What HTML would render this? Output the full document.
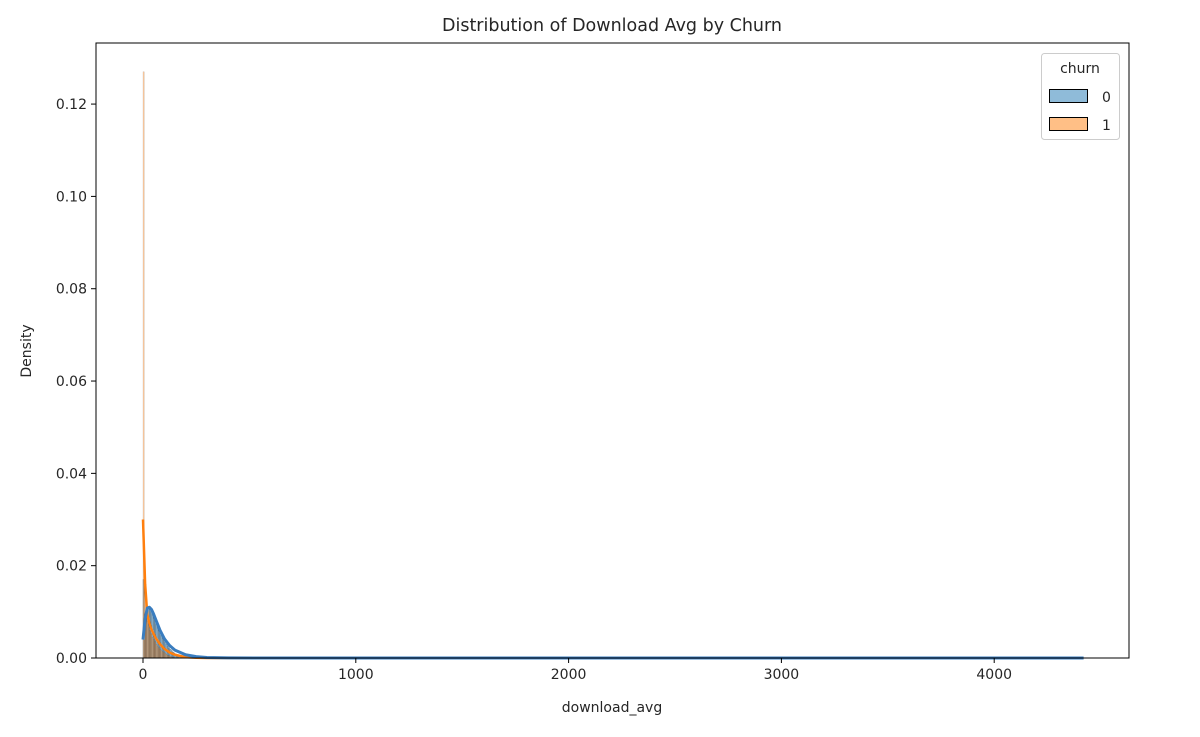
<!DOCTYPE html>
<html><head><meta charset="utf-8"><style>
body{margin:0;background:#fff;font-family:"Liberation Sans","DejaVu Sans",sans-serif;}
svg text{font-family:"DejaVu Sans","Liberation Sans",sans-serif;fill:#262626;}
</style></head><body>
<svg id="chart" width="1200" height="732">
<rect width="1200" height="732" fill="#fff"/>
<g id="marks"></g>
<g id="axes"></g>
</svg>
<script>
const binWidth = 6;
const orangeHist = [0.127,0.017,0.010,0.008,0.007,0.006,0.0052,0.0045,0.004,0.0035,0.003,0.0026,0.0022,0.0019,0.0016,0.0014,0.0012,0.001,0.0008,0.0006,0.0005,0.0004,0.0003,0.0002,0.0001];
const blueHist = [0.017,0.008,0.0098,0.0108,0.011,0.0108,0.0104,0.0098,0.0092,0.0085,0.0078,0.0071,0.0064,0.0057,0.005,0.0045,0.004,0.0035,0.003,0.0026,0.0022,0.0019,0.0016,0.0013,0.0011,0.0009,0.0007,0.0005,0.0004,0.0003,0.0002,0.0001];
const kdeX = [0,10,20,30,40,50,60,80,100,125,150,200,250,300,400,600,1000,2000,3000,4000,4420];
const blueKde = [0.004,0.0085,0.0108,0.011,0.0105,0.0095,0.0083,0.006,0.0042,0.0027,0.0017,0.0007,0.0003,0.0001,0.00003,0,0,0,0,0,0];
const orangeKde = [0.030,0.016,0.0095,0.0075,0.0062,0.0052,0.0043,0.003,0.002,0.0012,0.0007,0.0002,0.00005,0,0,0,0,0,0,0,0];
const xTicks = [0,1000,2000,3000,4000];
const yTicks = [0,0.02,0.04,0.06,0.08,0.10,0.12];

const L=96,R=1129,T=43,B=658;
const X=v=>143+v*0.2128;
const Y=v=>658-v*4616;
const NS='http://www.w3.org/2000/svg';
function mk(tag,attrs,parent){const e=document.createElementNS(NS,tag);for(const k in attrs)e.setAttribute(k,attrs[k]);parent.appendChild(e);return e;}
const marks=document.getElementById('marks'), axes=document.getElementById('axes');

blueHist.forEach((v,i)=>{
 const r=mk('rect',{x:X(i*binWidth),y:Y(v),width:X(binWidth)-X(0),height:B-Y(v),fill:'rgba(31,119,180,0.5)',stroke:'rgba(60,60,60,0.6)','stroke-width':0.4},marks);
 
 
});
orangeHist.forEach((v,i)=>{
 const r=mk('rect',{x:X(i*binWidth),y:Y(v),width:X(binWidth)-X(0),height:B-Y(v),fill:'rgba(255,127,14,0.4)',stroke:'rgba(60,60,60,0.35)','stroke-width':0.3},marks);
 
 
});
function line(vals,color,name,w){
 const d=kdeX.map((x,i)=>(i?'L':'M')+X(x).toFixed(2)+','+Y(vals[i]).toFixed(2)).join('');
 const p=mk('path',{d:d,fill:'none',stroke:color,'stroke-width':w,'stroke-linejoin':'round'},marks);
 
 
}
line(orangeKde,'#ff7f0e','kde-churn-1',2.5);
line(blueKde,'#3a7dbf','kde-churn-0',3);

const frame=mk('rect',{x:L,y:T,width:R-L,height:B-T,fill:'none',stroke:'#000','stroke-width':1},axes);


xTicks.forEach(t=>{
 mk('line',{x1:X(t),x2:X(t),y1:B,y2:B+5,stroke:'#000'},axes);
 const tx=mk('text',{x:X(t),y:B+21,'text-anchor':'middle','font-size':14},axes);
 tx.textContent=t;
 
 
});
yTicks.forEach(t=>{
 mk('line',{x1:L-5,x2:L,y1:Y(t),y2:Y(t),stroke:'#000'},axes);
 const tx=mk('text',{x:L-9,y:Y(t)+5,'text-anchor':'end','font-size':14},axes);
 tx.textContent=t.toFixed(2);
 
 
});
</script>
<svg style="position:absolute;left:0;top:0" width="1200" height="732">
<text x="612" y="31" text-anchor="middle" font-size="17.5">Distribution of Download Avg by Churn</text>
<text x="612" y="712" text-anchor="middle" font-size="14">download_avg</text>
<text x="0" y="0" transform="translate(31,351) rotate(-90)" text-anchor="middle" font-size="14">Density</text>
<g>
<rect x="1041.5" y="53.5" width="78" height="86" rx="3" fill="#fff" stroke="#ccc"/>
<text x="1080" y="73" text-anchor="middle" font-size="14">churn</text>
<rect x="1049.5" y="89.5" width="38" height="13" fill="rgba(31,119,180,0.5)" stroke="#000"/>
<text x="1102" y="102" font-size="14">0</text>
<rect x="1049.5" y="117.5" width="38" height="13" fill="rgba(255,127,14,0.5)" stroke="#000"/>
<text x="1102" y="130" font-size="14">1</text>
</g>
</svg>
</body></html>
